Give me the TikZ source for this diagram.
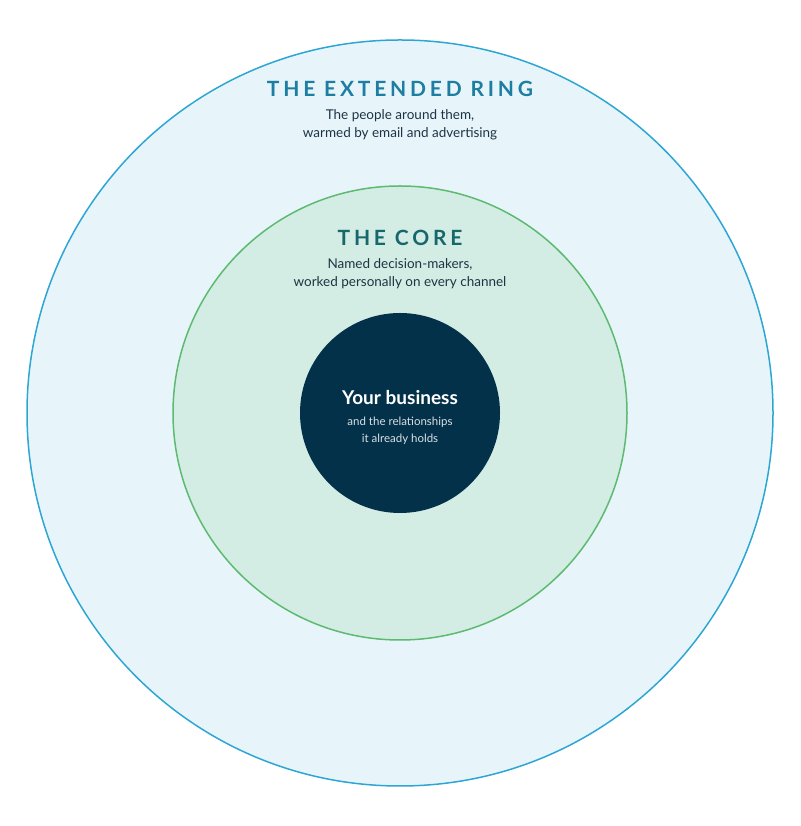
\documentclass[tikz,border=0pt]{standalone}
\usepackage{fontspec}
\setmainfont{Lato}
\newfontfamily\spaced[LetterSpace=18]{Lato}
\definecolor{outerfill}{HTML}{E7F5FB}
\definecolor{outerline}{HTML}{2EA6D3}
\definecolor{outertitle}{HTML}{1E7EA1}
\definecolor{corefill}{HTML}{D3EDE4}
\definecolor{coreline}{HTML}{5DBA70}
\definecolor{coretitle}{HTML}{17686D}
\definecolor{inner}{HTML}{04314A}
\definecolor{body}{HTML}{1E3344}
\begin{document}
\begin{tikzpicture}[x=1pt,y=1pt,
  title/.style={font=\fontsize{21}{24}\spaced\bfseries, inner sep=0},
  desc/.style={font=\fontsize{13.5}{18}\selectfont, text=body, align=center, inner sep=0}]
\useasboundingbox (0,0) rectangle (800,826);
\node[circle, minimum size=746, fill=outerfill, draw=outerline, line width=1.5] (outer) at (400,413) {};
\node[circle, minimum size=454, fill=corefill, draw=coreline, line width=1.5] (core) at (400,413) {};
\node[circle, minimum size=200, fill=inner] (inner) at (400,413) {};
\node[title, text=outertitle] (t1) at (400,737) {THE EXTENDED RING};
\node[desc] (d1) at (400,701) {The people around them,\\warmed by email and advertising};
\node[title, text=coretitle] (t2) at (400,588) {THE CORE};
\node[desc] (d2) at (400,552) {Named decision-makers,\\worked personally on every channel};
\node[font=\fontsize{19}{22}\selectfont\bfseries, text=white, inner sep=0] (t3) at (400,428) {Your business};
\node[font=\fontsize{11.5}{17}\selectfont, text=white!85!inner, align=center, inner sep=0] (d3) at (400,395) {and the relationships\\it already holds};
\end{tikzpicture}
\end{document}
